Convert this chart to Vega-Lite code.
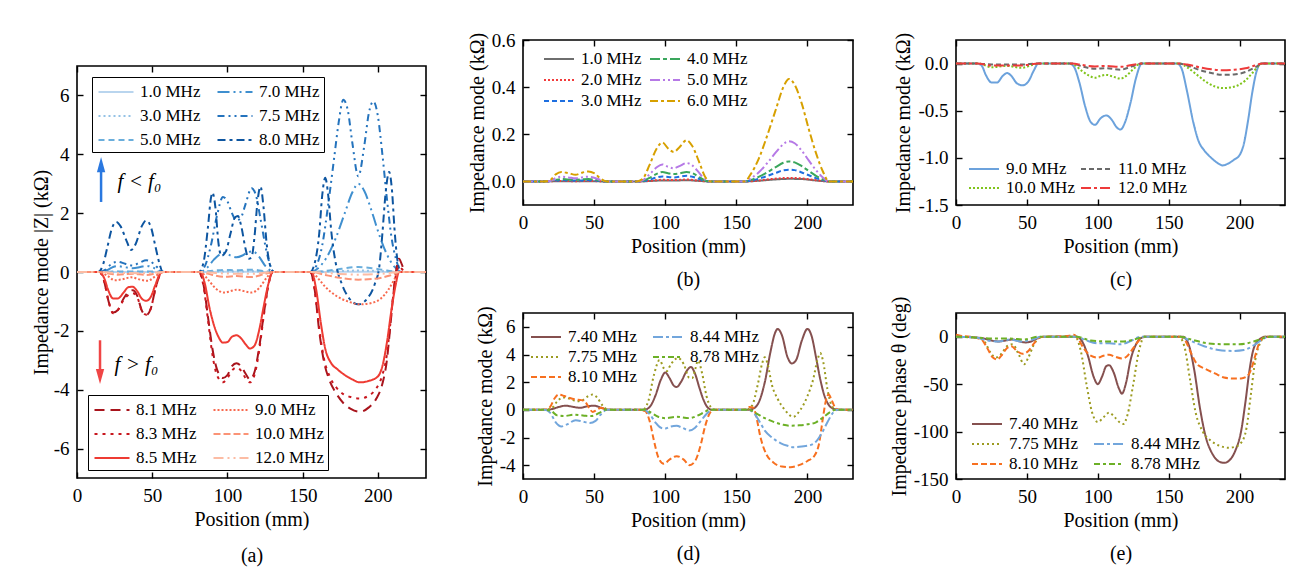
{
"$schema":"https://vega.github.io/schema/vega-lite/v6.json",
"background":"white",
"padding":{"left":30,"top":30,"right":5,"bottom":5},
"spacing":35,
"resolve":{"scale":{"color":"independent","strokeDash":"independent"},"legend":{"color":"independent","strokeDash":"independent"}},
"config":{
 "font":"Liberation Serif, Times New Roman, DejaVu Serif, serif",
 "view":{"stroke":"black","strokeWidth":1.6},
 "axis":{"labelFont":"Liberation Serif, Times New Roman, DejaVu Serif, serif","titleFont":"Liberation Serif, Times New Roman, DejaVu Serif, serif","labelFontSize":19,"titleFontSize":20,"titleFontWeight":"normal","labelColor":"black","titleColor":"black","tickColor":"black","tickWidth":1.4,"tickSize":-6,"domain":false,"grid":false,"labelPadding":14,"titlePadding":4,"labelFlush":false,"labelOverlap":false,"titleLineHeight":33},
 "legend":{"labelFont":"Liberation Serif, Times New Roman, DejaVu Serif, serif","labelFontSize":17,"labelColor":"black","symbolType":"M-1.5,0H1.5","symbolStrokeWidth":2,"symbolSize":400,"rowPadding":1,"columnPadding":4,"labelOffset":11,"symbolOffset":5,"padding":0,"orient":"none","columns":2,"title":null},
 "line":{"strokeWidth":2,"interpolate":"monotone","strokeCap":"butt"}
},
"datasets":{
"a_blue":[
{"s":"1.0 MHz","x":0,"y":0},{"s":"1.0 MHz","x":15,"y":0},{"s":"1.0 MHz","x":27,"y":0.003},{"s":"1.0 MHz","x":46,"y":0.003},{"s":"1.0 MHz","x":58,"y":0},{"s":"1.0 MHz","x":82,"y":0},{"s":"1.0 MHz","x":98,"y":0.006},{"s":"1.0 MHz","x":116,"y":0.006},{"s":"1.0 MHz","x":131,"y":0},{"s":"1.0 MHz","x":156,"y":0},{"s":"1.0 MHz","x":187,"y":0.012},{"s":"1.0 MHz","x":216,"y":0},{"s":"1.0 MHz","x":232,"y":0},
{"s":"3.0 MHz","x":0,"y":0},{"s":"3.0 MHz","x":15,"y":0},{"s":"3.0 MHz","x":27,"y":0.005},{"s":"3.0 MHz","x":46,"y":0.005},{"s":"3.0 MHz","x":58,"y":0},{"s":"3.0 MHz","x":82,"y":0},{"s":"3.0 MHz","x":98,"y":0.02},{"s":"3.0 MHz","x":106,"y":0.017},{"s":"3.0 MHz","x":116,"y":0.024},{"s":"3.0 MHz","x":131,"y":0},{"s":"3.0 MHz","x":156,"y":0},{"s":"3.0 MHz","x":172,"y":0.025},{"s":"3.0 MHz","x":187,"y":0.05},{"s":"3.0 MHz","x":200,"y":0.035},{"s":"3.0 MHz","x":216,"y":0},{"s":"3.0 MHz","x":232,"y":0},
{"s":"5.0 MHz","x":0,"y":0},{"s":"5.0 MHz","x":15,"y":0},{"s":"5.0 MHz","x":22,"y":0.012},{"s":"5.0 MHz","x":27,"y":0.02},{"s":"5.0 MHz","x":37,"y":0.013},{"s":"5.0 MHz","x":46,"y":0.02},{"s":"5.0 MHz","x":52,"y":0.012},{"s":"5.0 MHz","x":58,"y":0},{"s":"5.0 MHz","x":82,"y":0},{"s":"5.0 MHz","x":90,"y":0.04},{"s":"5.0 MHz","x":98,"y":0.072},{"s":"5.0 MHz","x":106,"y":0.056},{"s":"5.0 MHz","x":116,"y":0.078},{"s":"5.0 MHz","x":124,"y":0.035},{"s":"5.0 MHz","x":131,"y":0},{"s":"5.0 MHz","x":156,"y":0},{"s":"5.0 MHz","x":166,"y":0.04},{"s":"5.0 MHz","x":176,"y":0.11},{"s":"5.0 MHz","x":187,"y":0.17},{"s":"5.0 MHz","x":196,"y":0.13},{"s":"5.0 MHz","x":206,"y":0.05},{"s":"5.0 MHz","x":216,"y":0},{"s":"5.0 MHz","x":232,"y":0},
{"s":"7.0 MHz","x":0,"y":0},{"s":"7.0 MHz","x":15,"y":0},{"s":"7.0 MHz","x":20,"y":0.06},{"s":"7.0 MHz","x":24,"y":0.17},{"s":"7.0 MHz","x":27,"y":0.2},{"s":"7.0 MHz","x":32,"y":0.16},{"s":"7.0 MHz","x":37,"y":0.13},{"s":"7.0 MHz","x":42,"y":0.17},{"s":"7.0 MHz","x":46,"y":0.21},{"s":"7.0 MHz","x":51,"y":0.14},{"s":"7.0 MHz","x":55,"y":0.04},{"s":"7.0 MHz","x":58,"y":0},{"s":"7.0 MHz","x":81,"y":0},{"s":"7.0 MHz","x":86,"y":0.12},{"s":"7.0 MHz","x":91,"y":0.42},{"s":"7.0 MHz","x":95,"y":0.6},{"s":"7.0 MHz","x":98,"y":0.65},{"s":"7.0 MHz","x":102,"y":0.56},{"s":"7.0 MHz","x":106,"y":0.5},{"s":"7.0 MHz","x":110,"y":0.56},{"s":"7.0 MHz","x":114,"y":0.68},{"s":"7.0 MHz","x":117,"y":0.7},{"s":"7.0 MHz","x":121,"y":0.52},{"s":"7.0 MHz","x":125,"y":0.22},{"s":"7.0 MHz","x":129,"y":0.04},{"s":"7.0 MHz","x":131,"y":0},{"s":"7.0 MHz","x":155,"y":0},{"s":"7.0 MHz","x":160,"y":0.12},{"s":"7.0 MHz","x":166,"y":0.5},{"s":"7.0 MHz","x":172,"y":1.15},{"s":"7.0 MHz","x":178,"y":2.0},{"s":"7.0 MHz","x":183,"y":2.7},{"s":"7.0 MHz","x":187,"y":3.0},{"s":"7.0 MHz","x":191,"y":2.75},{"s":"7.0 MHz","x":196,"y":2.05},{"s":"7.0 MHz","x":201,"y":1.25},{"s":"7.0 MHz","x":206,"y":0.6},{"s":"7.0 MHz","x":211,"y":0.18},{"s":"7.0 MHz","x":216,"y":0},{"s":"7.0 MHz","x":232,"y":0},
{"s":"7.5 MHz","x":0,"y":0},{"s":"7.5 MHz","x":15,"y":0},{"s":"7.5 MHz","x":19,"y":0.08},{"s":"7.5 MHz","x":23,"y":0.28},{"s":"7.5 MHz","x":27,"y":0.35},{"s":"7.5 MHz","x":32,"y":0.28},{"s":"7.5 MHz","x":37,"y":0.22},{"s":"7.5 MHz","x":42,"y":0.33},{"s":"7.5 MHz","x":46,"y":0.4},{"s":"7.5 MHz","x":51,"y":0.28},{"s":"7.5 MHz","x":55,"y":0.08},{"s":"7.5 MHz","x":58,"y":0},{"s":"7.5 MHz","x":81,"y":0},{"s":"7.5 MHz","x":85,"y":0.2},{"s":"7.5 MHz","x":89,"y":0.9},{"s":"7.5 MHz","x":93,"y":1.9},{"s":"7.5 MHz","x":97,"y":2.55},{"s":"7.5 MHz","x":100,"y":2.4},{"s":"7.5 MHz","x":103,"y":2.0},{"s":"7.5 MHz","x":106,"y":1.75},{"s":"7.5 MHz","x":109,"y":1.85},{"s":"7.5 MHz","x":112,"y":2.3},{"s":"7.5 MHz","x":116,"y":2.85},{"s":"7.5 MHz","x":119,"y":2.6},{"s":"7.5 MHz","x":122,"y":1.8},{"s":"7.5 MHz","x":126,"y":0.7},{"s":"7.5 MHz","x":129,"y":0.15},{"s":"7.5 MHz","x":131,"y":0},{"s":"7.5 MHz","x":155,"y":0},{"s":"7.5 MHz","x":159,"y":0.2},{"s":"7.5 MHz","x":163,"y":0.9},{"s":"7.5 MHz","x":167,"y":2.3},{"s":"7.5 MHz","x":171,"y":3.9},{"s":"7.5 MHz","x":174,"y":5.1},{"s":"7.5 MHz","x":177,"y":5.85},{"s":"7.5 MHz","x":180,"y":5.5},{"s":"7.5 MHz","x":183,"y":4.4},{"s":"7.5 MHz","x":187,"y":3.25},{"s":"7.5 MHz","x":191,"y":4.3},{"s":"7.5 MHz","x":194,"y":5.4},{"s":"7.5 MHz","x":197,"y":5.8},{"s":"7.5 MHz","x":200,"y":5.3},{"s":"7.5 MHz","x":203,"y":4.0},{"s":"7.5 MHz","x":206,"y":2.5},{"s":"7.5 MHz","x":209,"y":1.2},{"s":"7.5 MHz","x":212,"y":0.45},{"s":"7.5 MHz","x":216,"y":0},{"s":"7.5 MHz","x":232,"y":0},
{"s":"8.0 MHz","x":0,"y":0},{"s":"8.0 MHz","x":14,"y":0},{"s":"8.0 MHz","x":17,"y":0.2},{"s":"8.0 MHz","x":20,"y":0.8},{"s":"8.0 MHz","x":23,"y":1.45},{"s":"8.0 MHz","x":26,"y":1.7},{"s":"8.0 MHz","x":29,"y":1.55},{"s":"8.0 MHz","x":33,"y":1.05},{"s":"8.0 MHz","x":36,"y":0.75},{"s":"8.0 MHz","x":39,"y":0.95},{"s":"8.0 MHz","x":43,"y":1.55},{"s":"8.0 MHz","x":46,"y":1.75},{"s":"8.0 MHz","x":49,"y":1.55},{"s":"8.0 MHz","x":52,"y":0.9},{"s":"8.0 MHz","x":55,"y":0.25},{"s":"8.0 MHz","x":57,"y":0},{"s":"8.0 MHz","x":81,"y":0},{"s":"8.0 MHz","x":84,"y":0.3},{"s":"8.0 MHz","x":87,"y":1.5},{"s":"8.0 MHz","x":89,"y":2.5},{"s":"8.0 MHz","x":90,"y":2.7},{"s":"8.0 MHz","x":92,"y":2.2},{"s":"8.0 MHz","x":94,"y":1.0},{"s":"8.0 MHz","x":96,"y":0.55},{"s":"8.0 MHz","x":99,"y":0.7},{"s":"8.0 MHz","x":102,"y":1.3},{"s":"8.0 MHz","x":105,"y":1.85},{"s":"8.0 MHz","x":107,"y":1.9},{"s":"8.0 MHz","x":109,"y":1.6},{"s":"8.0 MHz","x":112,"y":0.8},{"s":"8.0 MHz","x":114,"y":0.45},{"s":"8.0 MHz","x":116,"y":0.5},{"s":"8.0 MHz","x":118,"y":1.2},{"s":"8.0 MHz","x":120,"y":2.4},{"s":"8.0 MHz","x":122,"y":2.9},{"s":"8.0 MHz","x":124,"y":2.2},{"s":"8.0 MHz","x":126,"y":1.0},{"s":"8.0 MHz","x":128,"y":0.3},{"s":"8.0 MHz","x":131,"y":0},{"s":"8.0 MHz","x":155,"y":0},{"s":"8.0 MHz","x":158,"y":0.3},{"s":"8.0 MHz","x":161,"y":1.3},{"s":"8.0 MHz","x":163,"y":2.6},{"s":"8.0 MHz","x":165,"y":3.2},{"s":"8.0 MHz","x":167,"y":2.6},{"s":"8.0 MHz","x":169,"y":1.4},{"s":"8.0 MHz","x":172,"y":0.3},{"s":"8.0 MHz","x":176,"y":-0.4},{"s":"8.0 MHz","x":181,"y":-0.9},{"s":"8.0 MHz","x":187,"y":-1.1},{"s":"8.0 MHz","x":193,"y":-0.9},{"s":"8.0 MHz","x":198,"y":-0.4},{"s":"8.0 MHz","x":201,"y":0.2},{"s":"8.0 MHz","x":203,"y":1.3},{"s":"8.0 MHz","x":205,"y":2.6},{"s":"8.0 MHz","x":207.5,"y":3.4},{"s":"8.0 MHz","x":209.5,"y":2.7},{"s":"8.0 MHz","x":211,"y":1.5},{"s":"8.0 MHz","x":213,"y":0.4},{"s":"8.0 MHz","x":215,"y":0},{"s":"8.0 MHz","x":232,"y":0}
],
"a_red":[
{"s":"8.1 MHz","x":0,"y":0},{"s":"8.1 MHz","x":15,"y":0},{"s":"8.1 MHz","x":18,"y":-0.3},{"s":"8.1 MHz","x":21,"y":-1.0},{"s":"8.1 MHz","x":24,"y":-1.38},{"s":"8.1 MHz","x":27,"y":-1.3},{"s":"8.1 MHz","x":31,"y":-0.9},{"s":"8.1 MHz","x":35,"y":-0.65},{"s":"8.1 MHz","x":37,"y":-0.62},{"s":"8.1 MHz","x":40,"y":-0.8},{"s":"8.1 MHz","x":43,"y":-1.3},{"s":"8.1 MHz","x":46,"y":-1.47},{"s":"8.1 MHz","x":49,"y":-1.25},{"s":"8.1 MHz","x":52,"y":-0.6},{"s":"8.1 MHz","x":55,"y":-0.1},{"s":"8.1 MHz","x":57,"y":0},{"s":"8.1 MHz","x":81,"y":0},{"s":"8.1 MHz","x":84,"y":-0.4},{"s":"8.1 MHz","x":87,"y":-1.5},{"s":"8.1 MHz","x":90,"y":-2.6},{"s":"8.1 MHz","x":93,"y":-3.3},{"s":"8.1 MHz","x":97,"y":-3.6},{"s":"8.1 MHz","x":100,"y":-3.5},{"s":"8.1 MHz","x":103,"y":-3.2},{"s":"8.1 MHz","x":106,"y":-3.1},{"s":"8.1 MHz","x":109,"y":-3.2},{"s":"8.1 MHz","x":112,"y":-3.45},{"s":"8.1 MHz","x":115,"y":-3.65},{"s":"8.1 MHz","x":118,"y":-3.4},{"s":"8.1 MHz","x":121,"y":-2.6},{"s":"8.1 MHz","x":124,"y":-1.5},{"s":"8.1 MHz","x":127,"y":-0.5},{"s":"8.1 MHz","x":130,"y":0},{"s":"8.1 MHz","x":155,"y":0},{"s":"8.1 MHz","x":158,"y":-0.6},{"s":"8.1 MHz","x":161,"y":-2.0},{"s":"8.1 MHz","x":164,"y":-3.0},{"s":"8.1 MHz","x":168,"y":-3.7},{"s":"8.1 MHz","x":172,"y":-4.1},{"s":"8.1 MHz","x":177,"y":-4.45},{"s":"8.1 MHz","x":182,"y":-4.65},{"s":"8.1 MHz","x":188,"y":-4.75},{"s":"8.1 MHz","x":194,"y":-4.6},{"s":"8.1 MHz","x":199,"y":-4.3},{"s":"8.1 MHz","x":203,"y":-3.8},{"s":"8.1 MHz","x":206,"y":-3.0},{"s":"8.1 MHz","x":208,"y":-2.0},{"s":"8.1 MHz","x":210,"y":-0.9},{"s":"8.1 MHz","x":212,"y":0.0},{"s":"8.1 MHz","x":214,"y":0.45},{"s":"8.1 MHz","x":216,"y":0.25},{"s":"8.1 MHz","x":218,"y":0},{"s":"8.1 MHz","x":232,"y":0},
{"s":"8.3 MHz","x":0,"y":0},{"s":"8.3 MHz","x":15,"y":0},{"s":"8.3 MHz","x":18,"y":-0.3},{"s":"8.3 MHz","x":21,"y":-1.0},{"s":"8.3 MHz","x":24,"y":-1.4},{"s":"8.3 MHz","x":27,"y":-1.3},{"s":"8.3 MHz","x":31,"y":-0.95},{"s":"8.3 MHz","x":35,"y":-0.75},{"s":"8.3 MHz","x":37,"y":-0.72},{"s":"8.3 MHz","x":40,"y":-0.85},{"s":"8.3 MHz","x":43,"y":-1.3},{"s":"8.3 MHz","x":46,"y":-1.45},{"s":"8.3 MHz","x":49,"y":-1.25},{"s":"8.3 MHz","x":52,"y":-0.6},{"s":"8.3 MHz","x":55,"y":-0.1},{"s":"8.3 MHz","x":57,"y":0},{"s":"8.3 MHz","x":81,"y":0},{"s":"8.3 MHz","x":84,"y":-0.45},{"s":"8.3 MHz","x":87,"y":-1.6},{"s":"8.3 MHz","x":90,"y":-2.8},{"s":"8.3 MHz","x":93,"y":-3.5},{"s":"8.3 MHz","x":97,"y":-3.75},{"s":"8.3 MHz","x":100,"y":-3.6},{"s":"8.3 MHz","x":103,"y":-3.35},{"s":"8.3 MHz","x":106,"y":-3.25},{"s":"8.3 MHz","x":109,"y":-3.35},{"s":"8.3 MHz","x":112,"y":-3.6},{"s":"8.3 MHz","x":115,"y":-3.75},{"s":"8.3 MHz","x":118,"y":-3.5},{"s":"8.3 MHz","x":121,"y":-2.7},{"s":"8.3 MHz","x":124,"y":-1.55},{"s":"8.3 MHz","x":127,"y":-0.5},{"s":"8.3 MHz","x":130,"y":0},{"s":"8.3 MHz","x":155,"y":0},{"s":"8.3 MHz","x":158,"y":-0.6},{"s":"8.3 MHz","x":161,"y":-1.9},{"s":"8.3 MHz","x":164,"y":-2.9},{"s":"8.3 MHz","x":168,"y":-3.55},{"s":"8.3 MHz","x":172,"y":-3.9},{"s":"8.3 MHz","x":177,"y":-4.15},{"s":"8.3 MHz","x":182,"y":-4.25},{"s":"8.3 MHz","x":188,"y":-4.3},{"s":"8.3 MHz","x":194,"y":-4.2},{"s":"8.3 MHz","x":199,"y":-3.95},{"s":"8.3 MHz","x":203,"y":-3.5},{"s":"8.3 MHz","x":206,"y":-2.8},{"s":"8.3 MHz","x":208,"y":-1.9},{"s":"8.3 MHz","x":210,"y":-0.9},{"s":"8.3 MHz","x":212,"y":-0.1},{"s":"8.3 MHz","x":214,"y":0.2},{"s":"8.3 MHz","x":216,"y":0.1},{"s":"8.3 MHz","x":218,"y":0},{"s":"8.3 MHz","x":232,"y":0},
{"s":"8.5 MHz","x":0,"y":0},{"s":"8.5 MHz","x":15,"y":0},{"s":"8.5 MHz","x":18,"y":-0.2},{"s":"8.5 MHz","x":21,"y":-0.65},{"s":"8.5 MHz","x":24,"y":-0.9},{"s":"8.5 MHz","x":27,"y":-0.9},{"s":"8.5 MHz","x":31,"y":-0.7},{"s":"8.5 MHz","x":34,"y":-0.52},{"s":"8.5 MHz","x":37,"y":-0.5},{"s":"8.5 MHz","x":40,"y":-0.65},{"s":"8.5 MHz","x":43,"y":-0.9},{"s":"8.5 MHz","x":46,"y":-0.98},{"s":"8.5 MHz","x":49,"y":-0.85},{"s":"8.5 MHz","x":52,"y":-0.45},{"s":"8.5 MHz","x":55,"y":-0.08},{"s":"8.5 MHz","x":57,"y":0},{"s":"8.5 MHz","x":82,"y":0},{"s":"8.5 MHz","x":85,"y":-0.4},{"s":"8.5 MHz","x":88,"y":-1.2},{"s":"8.5 MHz","x":91,"y":-1.8},{"s":"8.5 MHz","x":94,"y":-2.2},{"s":"8.5 MHz","x":97,"y":-2.4},{"s":"8.5 MHz","x":100,"y":-2.38},{"s":"8.5 MHz","x":103,"y":-2.2},{"s":"8.5 MHz","x":106,"y":-2.15},{"s":"8.5 MHz","x":109,"y":-2.25},{"s":"8.5 MHz","x":112,"y":-2.45},{"s":"8.5 MHz","x":115,"y":-2.6},{"s":"8.5 MHz","x":118,"y":-2.5},{"s":"8.5 MHz","x":121,"y":-2.0},{"s":"8.5 MHz","x":124,"y":-1.2},{"s":"8.5 MHz","x":127,"y":-0.45},{"s":"8.5 MHz","x":130,"y":0},{"s":"8.5 MHz","x":156,"y":0},{"s":"8.5 MHz","x":159,"y":-0.6},{"s":"8.5 MHz","x":162,"y":-1.7},{"s":"8.5 MHz","x":165,"y":-2.6},{"s":"8.5 MHz","x":169,"y":-3.1},{"s":"8.5 MHz","x":173,"y":-3.3},{"s":"8.5 MHz","x":178,"y":-3.5},{"s":"8.5 MHz","x":183,"y":-3.65},{"s":"8.5 MHz","x":188,"y":-3.75},{"s":"8.5 MHz","x":194,"y":-3.7},{"s":"8.5 MHz","x":200,"y":-3.55},{"s":"8.5 MHz","x":203,"y":-3.2},{"s":"8.5 MHz","x":206,"y":-2.4},{"s":"8.5 MHz","x":209,"y":-1.3},{"s":"8.5 MHz","x":212,"y":-0.4},{"s":"8.5 MHz","x":214,"y":0},{"s":"8.5 MHz","x":232,"y":0},
{"s":"9.0 MHz","x":0,"y":0},{"s":"9.0 MHz","x":15,"y":0},{"s":"9.0 MHz","x":20,"y":-0.12},{"s":"9.0 MHz","x":25,"y":-0.28},{"s":"9.0 MHz","x":30,"y":-0.25},{"s":"9.0 MHz","x":36,"y":-0.18},{"s":"9.0 MHz","x":42,"y":-0.26},{"s":"9.0 MHz","x":47,"y":-0.3},{"s":"9.0 MHz","x":52,"y":-0.15},{"s":"9.0 MHz","x":57,"y":0},{"s":"9.0 MHz","x":82,"y":0},{"s":"9.0 MHz","x":87,"y":-0.25},{"s":"9.0 MHz","x":92,"y":-0.55},{"s":"9.0 MHz","x":98,"y":-0.7},{"s":"9.0 MHz","x":102,"y":-0.65},{"s":"9.0 MHz","x":106,"y":-0.6},{"s":"9.0 MHz","x":111,"y":-0.65},{"s":"9.0 MHz","x":116,"y":-0.7},{"s":"9.0 MHz","x":121,"y":-0.55},{"s":"9.0 MHz","x":126,"y":-0.2},{"s":"9.0 MHz","x":130,"y":0},{"s":"9.0 MHz","x":156,"y":0},{"s":"9.0 MHz","x":160,"y":-0.2},{"s":"9.0 MHz","x":165,"y":-0.5},{"s":"9.0 MHz","x":172,"y":-0.8},{"s":"9.0 MHz","x":180,"y":-1.0},{"s":"9.0 MHz","x":188,"y":-1.1},{"s":"9.0 MHz","x":196,"y":-1.05},{"s":"9.0 MHz","x":202,"y":-0.9},{"s":"9.0 MHz","x":207,"y":-0.6},{"s":"9.0 MHz","x":211,"y":-0.25},{"s":"9.0 MHz","x":214,"y":0},{"s":"9.0 MHz","x":232,"y":0},
{"s":"10.0 MHz","x":0,"y":0},{"s":"10.0 MHz","x":15,"y":0},{"s":"10.0 MHz","x":22,"y":-0.06},{"s":"10.0 MHz","x":27,"y":-0.09},{"s":"10.0 MHz","x":37,"y":-0.06},{"s":"10.0 MHz","x":46,"y":-0.1},{"s":"10.0 MHz","x":53,"y":-0.04},{"s":"10.0 MHz","x":58,"y":0},{"s":"10.0 MHz","x":82,"y":0},{"s":"10.0 MHz","x":90,"y":-0.1},{"s":"10.0 MHz","x":98,"y":-0.16},{"s":"10.0 MHz","x":106,"y":-0.14},{"s":"10.0 MHz","x":116,"y":-0.17},{"s":"10.0 MHz","x":124,"y":-0.08},{"s":"10.0 MHz","x":131,"y":0},{"s":"10.0 MHz","x":156,"y":0},{"s":"10.0 MHz","x":165,"y":-0.1},{"s":"10.0 MHz","x":175,"y":-0.2},{"s":"10.0 MHz","x":187,"y":-0.26},{"s":"10.0 MHz","x":198,"y":-0.23},{"s":"10.0 MHz","x":208,"y":-0.12},{"s":"10.0 MHz","x":215,"y":0},{"s":"10.0 MHz","x":232,"y":0},
{"s":"12.0 MHz","x":0,"y":0},{"s":"12.0 MHz","x":15,"y":0},{"s":"12.0 MHz","x":27,"y":-0.03},{"s":"12.0 MHz","x":46,"y":-0.04},{"s":"12.0 MHz","x":58,"y":0},{"s":"12.0 MHz","x":82,"y":0},{"s":"12.0 MHz","x":98,"y":-0.05},{"s":"12.0 MHz","x":116,"y":-0.06},{"s":"12.0 MHz","x":131,"y":0},{"s":"12.0 MHz","x":156,"y":0},{"s":"12.0 MHz","x":175,"y":-0.07},{"s":"12.0 MHz","x":187,"y":-0.09},{"s":"12.0 MHz","x":200,"y":-0.07},{"s":"12.0 MHz","x":215,"y":0},{"s":"12.0 MHz","x":232,"y":0}
],
"b":[
{"s":"1.0 MHz","x":0,"y":0},{"s":"1.0 MHz","x":15,"y":0},{"s":"1.0 MHz","x":27,"y":0.001},{"s":"1.0 MHz","x":46,"y":0.001},{"s":"1.0 MHz","x":58,"y":0},{"s":"1.0 MHz","x":82,"y":0},{"s":"1.0 MHz","x":90,"y":0.002},{"s":"1.0 MHz","x":98,"y":0.004},{"s":"1.0 MHz","x":106,"y":0.004},{"s":"1.0 MHz","x":116,"y":0.005},{"s":"1.0 MHz","x":124,"y":0.002},{"s":"1.0 MHz","x":131,"y":0},{"s":"1.0 MHz","x":156,"y":0},{"s":"1.0 MHz","x":166,"y":0.003},{"s":"1.0 MHz","x":176,"y":0.008},{"s":"1.0 MHz","x":187,"y":0.011},{"s":"1.0 MHz","x":196,"y":0.01},{"s":"1.0 MHz","x":206,"y":0.004},{"s":"1.0 MHz","x":215,"y":0},{"s":"1.0 MHz","x":232,"y":0},
{"s":"2.0 MHz","x":0,"y":0},{"s":"2.0 MHz","x":15,"y":0},{"s":"2.0 MHz","x":27,"y":0.002},{"s":"2.0 MHz","x":37,"y":0.001},{"s":"2.0 MHz","x":46,"y":0.002},{"s":"2.0 MHz","x":58,"y":0},{"s":"2.0 MHz","x":82,"y":0},{"s":"2.0 MHz","x":90,"y":0.003},{"s":"2.0 MHz","x":98,"y":0.007},{"s":"2.0 MHz","x":106,"y":0.006},{"s":"2.0 MHz","x":116,"y":0.008},{"s":"2.0 MHz","x":124,"y":0.003},{"s":"2.0 MHz","x":131,"y":0},{"s":"2.0 MHz","x":156,"y":0},{"s":"2.0 MHz","x":166,"y":0.004},{"s":"2.0 MHz","x":176,"y":0.011},{"s":"2.0 MHz","x":187,"y":0.015},{"s":"2.0 MHz","x":196,"y":0.013},{"s":"2.0 MHz","x":206,"y":0.005},{"s":"2.0 MHz","x":215,"y":0},{"s":"2.0 MHz","x":232,"y":0},
{"s":"3.0 MHz","x":0,"y":0},{"s":"3.0 MHz","x":15,"y":0},{"s":"3.0 MHz","x":23,"y":0.004},{"s":"3.0 MHz","x":27,"y":0.005},{"s":"3.0 MHz","x":37,"y":0.004},{"s":"3.0 MHz","x":46,"y":0.005},{"s":"3.0 MHz","x":55,"y":0.002},{"s":"3.0 MHz","x":58,"y":0},{"s":"3.0 MHz","x":82,"y":0},{"s":"3.0 MHz","x":84,"y":0.001},{"s":"3.0 MHz","x":89,"y":0.008},{"s":"3.0 MHz","x":94,"y":0.017},{"s":"3.0 MHz","x":98,"y":0.021},{"s":"3.0 MHz","x":106,"y":0.017},{"s":"3.0 MHz","x":115,"y":0.024},{"s":"3.0 MHz","x":119,"y":0.02},{"s":"3.0 MHz","x":124,"y":0.01},{"s":"3.0 MHz","x":128,"y":0.002},{"s":"3.0 MHz","x":131,"y":0},{"s":"3.0 MHz","x":156,"y":0},{"s":"3.0 MHz","x":160,"y":0.003},{"s":"3.0 MHz","x":166,"y":0.012},{"s":"3.0 MHz","x":172,"y":0.024},{"s":"3.0 MHz","x":178,"y":0.037},{"s":"3.0 MHz","x":183,"y":0.047},{"s":"3.0 MHz","x":187,"y":0.05},{"s":"3.0 MHz","x":191,"y":0.048},{"s":"3.0 MHz","x":196,"y":0.038},{"s":"3.0 MHz","x":201,"y":0.026},{"s":"3.0 MHz","x":206,"y":0.014},{"s":"3.0 MHz","x":211,"y":0.005},{"s":"3.0 MHz","x":215,"y":0},{"s":"3.0 MHz","x":232,"y":0},
{"s":"4.0 MHz","x":0,"y":0},{"s":"4.0 MHz","x":15,"y":0},{"s":"4.0 MHz","x":19,"y":0.002},{"s":"4.0 MHz","x":23,"y":0.007},{"s":"4.0 MHz","x":27,"y":0.01},{"s":"4.0 MHz","x":32,"y":0.008},{"s":"4.0 MHz","x":37,"y":0.007},{"s":"4.0 MHz","x":42,"y":0.009},{"s":"4.0 MHz","x":46,"y":0.01},{"s":"4.0 MHz","x":50,"y":0.008},{"s":"4.0 MHz","x":55,"y":0.003},{"s":"4.0 MHz","x":59,"y":0},{"s":"4.0 MHz","x":80,"y":0},{"s":"4.0 MHz","x":84,"y":0.002},{"s":"4.0 MHz","x":89,"y":0.015},{"s":"4.0 MHz","x":94,"y":0.032},{"s":"4.0 MHz","x":98,"y":0.04},{"s":"4.0 MHz","x":102,"y":0.035},{"s":"4.0 MHz","x":106,"y":0.031},{"s":"4.0 MHz","x":110,"y":0.034},{"s":"4.0 MHz","x":115,"y":0.04},{"s":"4.0 MHz","x":119,"y":0.035},{"s":"4.0 MHz","x":124,"y":0.018},{"s":"4.0 MHz","x":128,"y":0.004},{"s":"4.0 MHz","x":132,"y":0},{"s":"4.0 MHz","x":156,"y":0},{"s":"4.0 MHz","x":160,"y":0.006},{"s":"4.0 MHz","x":166,"y":0.02},{"s":"4.0 MHz","x":172,"y":0.04},{"s":"4.0 MHz","x":178,"y":0.062},{"s":"4.0 MHz","x":183,"y":0.079},{"s":"4.0 MHz","x":187,"y":0.085},{"s":"4.0 MHz","x":191,"y":0.081},{"s":"4.0 MHz","x":196,"y":0.065},{"s":"4.0 MHz","x":201,"y":0.044},{"s":"4.0 MHz","x":206,"y":0.024},{"s":"4.0 MHz","x":211,"y":0.008},{"s":"4.0 MHz","x":215,"y":0},{"s":"4.0 MHz","x":232,"y":0},
{"s":"5.0 MHz","x":0,"y":0},{"s":"5.0 MHz","x":15,"y":0},{"s":"5.0 MHz","x":19,"y":0.002},{"s":"5.0 MHz","x":23,"y":0.014},{"s":"5.0 MHz","x":27,"y":0.02},{"s":"5.0 MHz","x":32,"y":0.017},{"s":"5.0 MHz","x":37,"y":0.013},{"s":"5.0 MHz","x":42,"y":0.018},{"s":"5.0 MHz","x":46,"y":0.02},{"s":"5.0 MHz","x":50,"y":0.016},{"s":"5.0 MHz","x":55,"y":0.005},{"s":"5.0 MHz","x":59,"y":0},{"s":"5.0 MHz","x":80,"y":0},{"s":"5.0 MHz","x":84,"y":0.005},{"s":"5.0 MHz","x":89,"y":0.03},{"s":"5.0 MHz","x":94,"y":0.06},{"s":"5.0 MHz","x":98,"y":0.072},{"s":"5.0 MHz","x":102,"y":0.062},{"s":"5.0 MHz","x":106,"y":0.056},{"s":"5.0 MHz","x":110,"y":0.065},{"s":"5.0 MHz","x":115,"y":0.078},{"s":"5.0 MHz","x":119,"y":0.068},{"s":"5.0 MHz","x":124,"y":0.035},{"s":"5.0 MHz","x":128,"y":0.008},{"s":"5.0 MHz","x":132,"y":0},{"s":"5.0 MHz","x":156,"y":0},{"s":"5.0 MHz","x":160,"y":0.012},{"s":"5.0 MHz","x":166,"y":0.04},{"s":"5.0 MHz","x":172,"y":0.08},{"s":"5.0 MHz","x":178,"y":0.125},{"s":"5.0 MHz","x":183,"y":0.158},{"s":"5.0 MHz","x":187,"y":0.17},{"s":"5.0 MHz","x":191,"y":0.162},{"s":"5.0 MHz","x":196,"y":0.13},{"s":"5.0 MHz","x":201,"y":0.088},{"s":"5.0 MHz","x":206,"y":0.048},{"s":"5.0 MHz","x":211,"y":0.016},{"s":"5.0 MHz","x":215,"y":0},{"s":"5.0 MHz","x":232,"y":0},
{"s":"6.0 MHz","x":0,"y":0},{"s":"6.0 MHz","x":15,"y":0},{"s":"6.0 MHz","x":19,"y":0.005},{"s":"6.0 MHz","x":23,"y":0.03},{"s":"6.0 MHz","x":27,"y":0.04},{"s":"6.0 MHz","x":32,"y":0.035},{"s":"6.0 MHz","x":37,"y":0.028},{"s":"6.0 MHz","x":42,"y":0.038},{"s":"6.0 MHz","x":46,"y":0.042},{"s":"6.0 MHz","x":50,"y":0.035},{"s":"6.0 MHz","x":55,"y":0.01},{"s":"6.0 MHz","x":59,"y":0},{"s":"6.0 MHz","x":80,"y":0},{"s":"6.0 MHz","x":84,"y":0.01},{"s":"6.0 MHz","x":89,"y":0.07},{"s":"6.0 MHz","x":94,"y":0.14},{"s":"6.0 MHz","x":98,"y":0.165},{"s":"6.0 MHz","x":102,"y":0.14},{"s":"6.0 MHz","x":106,"y":0.125},{"s":"6.0 MHz","x":110,"y":0.145},{"s":"6.0 MHz","x":115,"y":0.175},{"s":"6.0 MHz","x":119,"y":0.15},{"s":"6.0 MHz","x":124,"y":0.08},{"s":"6.0 MHz","x":128,"y":0.02},{"s":"6.0 MHz","x":132,"y":0},{"s":"6.0 MHz","x":156,"y":0},{"s":"6.0 MHz","x":160,"y":0.03},{"s":"6.0 MHz","x":166,"y":0.1},{"s":"6.0 MHz","x":172,"y":0.2},{"s":"6.0 MHz","x":178,"y":0.31},{"s":"6.0 MHz","x":183,"y":0.4},{"s":"6.0 MHz","x":187,"y":0.435},{"s":"6.0 MHz","x":191,"y":0.41},{"s":"6.0 MHz","x":196,"y":0.33},{"s":"6.0 MHz","x":201,"y":0.22},{"s":"6.0 MHz","x":206,"y":0.12},{"s":"6.0 MHz","x":211,"y":0.04},{"s":"6.0 MHz","x":215,"y":0},{"s":"6.0 MHz","x":232,"y":0}
],
"c":[
{"s":"9.0 MHz","x":0,"y":0},{"s":"9.0 MHz","x":15,"y":0},{"s":"9.0 MHz","x":18,"y":-0.02},{"s":"9.0 MHz","x":21,"y":-0.12},{"s":"9.0 MHz","x":25,"y":-0.2},{"s":"9.0 MHz","x":29,"y":-0.2},{"s":"9.0 MHz","x":33,"y":-0.13},{"s":"9.0 MHz","x":36,"y":-0.1},{"s":"9.0 MHz","x":39,"y":-0.13},{"s":"9.0 MHz","x":43,"y":-0.21},{"s":"9.0 MHz","x":47,"y":-0.23},{"s":"9.0 MHz","x":51,"y":-0.19},{"s":"9.0 MHz","x":55,"y":-0.07},{"s":"9.0 MHz","x":58,"y":0},{"s":"9.0 MHz","x":80,"y":0},{"s":"9.0 MHz","x":83,"y":-0.03},{"s":"9.0 MHz","x":87,"y":-0.2},{"s":"9.0 MHz","x":91,"y":-0.45},{"s":"9.0 MHz","x":95,"y":-0.62},{"s":"9.0 MHz","x":98,"y":-0.65},{"s":"9.0 MHz","x":102,"y":-0.58},{"s":"9.0 MHz","x":106,"y":-0.55},{"s":"9.0 MHz","x":110,"y":-0.6},{"s":"9.0 MHz","x":113,"y":-0.67},{"s":"9.0 MHz","x":116,"y":-0.7},{"s":"9.0 MHz","x":119,"y":-0.63},{"s":"9.0 MHz","x":123,"y":-0.42},{"s":"9.0 MHz","x":127,"y":-0.15},{"s":"9.0 MHz","x":131,"y":0},{"s":"9.0 MHz","x":156,"y":0},{"s":"9.0 MHz","x":159,"y":-0.05},{"s":"9.0 MHz","x":163,"y":-0.3},{"s":"9.0 MHz","x":167,"y":-0.6},{"s":"9.0 MHz","x":171,"y":-0.82},{"s":"9.0 MHz","x":175,"y":-0.92},{"s":"9.0 MHz","x":180,"y":-1.0},{"s":"9.0 MHz","x":185,"y":-1.06},{"s":"9.0 MHz","x":188,"y":-1.08},{"s":"9.0 MHz","x":192,"y":-1.06},{"s":"9.0 MHz","x":196,"y":-1.02},{"s":"9.0 MHz","x":200,"y":-0.97},{"s":"9.0 MHz","x":203,"y":-0.85},{"s":"9.0 MHz","x":206,"y":-0.6},{"s":"9.0 MHz","x":209,"y":-0.3},{"s":"9.0 MHz","x":212,"y":-0.08},{"s":"9.0 MHz","x":215,"y":0},{"s":"9.0 MHz","x":232,"y":0},
{"s":"10.0 MHz","x":0,"y":0},{"s":"10.0 MHz","x":15,"y":0},{"s":"10.0 MHz","x":18,"y":-0.005},{"s":"10.0 MHz","x":25,"y":-0.04},{"s":"10.0 MHz","x":36,"y":-0.025},{"s":"10.0 MHz","x":46,"y":-0.045},{"s":"10.0 MHz","x":55,"y":-0.01},{"s":"10.0 MHz","x":58,"y":0},{"s":"10.0 MHz","x":80,"y":0},{"s":"10.0 MHz","x":83,"y":-0.01},{"s":"10.0 MHz","x":89,"y":-0.08},{"s":"10.0 MHz","x":94,"y":-0.13},{"s":"10.0 MHz","x":98,"y":-0.15},{"s":"10.0 MHz","x":102,"y":-0.13},{"s":"10.0 MHz","x":106,"y":-0.12},{"s":"10.0 MHz","x":111,"y":-0.14},{"s":"10.0 MHz","x":116,"y":-0.16},{"s":"10.0 MHz","x":120,"y":-0.13},{"s":"10.0 MHz","x":125,"y":-0.06},{"s":"10.0 MHz","x":130,"y":0},{"s":"10.0 MHz","x":158,"y":0},{"s":"10.0 MHz","x":163,"y":-0.04},{"s":"10.0 MHz","x":170,"y":-0.12},{"s":"10.0 MHz","x":177,"y":-0.2},{"s":"10.0 MHz","x":183,"y":-0.245},{"s":"10.0 MHz","x":188,"y":-0.26},{"s":"10.0 MHz","x":193,"y":-0.255},{"s":"10.0 MHz","x":199,"y":-0.23},{"s":"10.0 MHz","x":204,"y":-0.18},{"s":"10.0 MHz","x":209,"y":-0.1},{"s":"10.0 MHz","x":213,"y":-0.03},{"s":"10.0 MHz","x":216,"y":0},{"s":"10.0 MHz","x":232,"y":0},
{"s":"11.0 MHz","x":0,"y":0},{"s":"11.0 MHz","x":15,"y":0},{"s":"11.0 MHz","x":25,"y":-0.01},{"s":"11.0 MHz","x":46,"y":-0.01},{"s":"11.0 MHz","x":58,"y":0},{"s":"11.0 MHz","x":82,"y":0},{"s":"11.0 MHz","x":89,"y":-0.03},{"s":"11.0 MHz","x":98,"y":-0.055},{"s":"11.0 MHz","x":106,"y":-0.05},{"s":"11.0 MHz","x":116,"y":-0.065},{"s":"11.0 MHz","x":124,"y":-0.03},{"s":"11.0 MHz","x":131,"y":0},{"s":"11.0 MHz","x":157,"y":0},{"s":"11.0 MHz","x":163,"y":-0.02},{"s":"11.0 MHz","x":172,"y":-0.07},{"s":"11.0 MHz","x":180,"y":-0.1},{"s":"11.0 MHz","x":188,"y":-0.12},{"s":"11.0 MHz","x":196,"y":-0.115},{"s":"11.0 MHz","x":204,"y":-0.09},{"s":"11.0 MHz","x":211,"y":-0.04},{"s":"11.0 MHz","x":216,"y":0},{"s":"11.0 MHz","x":232,"y":0},
{"s":"12.0 MHz","x":0,"y":0},{"s":"12.0 MHz","x":15,"y":0},{"s":"12.0 MHz","x":25,"y":-0.02},{"s":"12.0 MHz","x":46,"y":-0.02},{"s":"12.0 MHz","x":58,"y":0},{"s":"12.0 MHz","x":82,"y":0},{"s":"12.0 MHz","x":89,"y":-0.015},{"s":"12.0 MHz","x":98,"y":-0.03},{"s":"12.0 MHz","x":106,"y":-0.025},{"s":"12.0 MHz","x":116,"y":-0.035},{"s":"12.0 MHz","x":124,"y":-0.015},{"s":"12.0 MHz","x":131,"y":0},{"s":"12.0 MHz","x":157,"y":0},{"s":"12.0 MHz","x":163,"y":-0.01},{"s":"12.0 MHz","x":172,"y":-0.04},{"s":"12.0 MHz","x":180,"y":-0.06},{"s":"12.0 MHz","x":188,"y":-0.07},{"s":"12.0 MHz","x":196,"y":-0.065},{"s":"12.0 MHz","x":204,"y":-0.05},{"s":"12.0 MHz","x":211,"y":-0.02},{"s":"12.0 MHz","x":216,"y":0},{"s":"12.0 MHz","x":232,"y":0}
],
"d":[
{"s":"7.40 MHz","x":0,"y":0},{"s":"7.40 MHz","x":15,"y":0},{"s":"7.40 MHz","x":20,"y":0.05},{"s":"7.40 MHz","x":25,"y":0.2},{"s":"7.40 MHz","x":30,"y":0.3},{"s":"7.40 MHz","x":35,"y":0.22},{"s":"7.40 MHz","x":40,"y":0.15},{"s":"7.40 MHz","x":45,"y":0.25},{"s":"7.40 MHz","x":50,"y":0.3},{"s":"7.40 MHz","x":55,"y":0.15},{"s":"7.40 MHz","x":60,"y":0},{"s":"7.40 MHz","x":85,"y":0},{"s":"7.40 MHz","x":89,"y":0.2},{"s":"7.40 MHz","x":93,"y":1.0},{"s":"7.40 MHz","x":97,"y":2.2},{"s":"7.40 MHz","x":100,"y":2.7},{"s":"7.40 MHz","x":103,"y":2.3},{"s":"7.40 MHz","x":106,"y":1.75},{"s":"7.40 MHz","x":108,"y":1.65},{"s":"7.40 MHz","x":111,"y":2.0},{"s":"7.40 MHz","x":115,"y":2.8},{"s":"7.40 MHz","x":118,"y":3.1},{"s":"7.40 MHz","x":121,"y":2.6},{"s":"7.40 MHz","x":124,"y":1.6},{"s":"7.40 MHz","x":127,"y":0.7},{"s":"7.40 MHz","x":130,"y":0.15},{"s":"7.40 MHz","x":133,"y":0},{"s":"7.40 MHz","x":158,"y":0},{"s":"7.40 MHz","x":162,"y":0.1},{"s":"7.40 MHz","x":166,"y":0.6},{"s":"7.40 MHz","x":170,"y":2.0},{"s":"7.40 MHz","x":174,"y":4.2},{"s":"7.40 MHz","x":177,"y":5.5},{"s":"7.40 MHz","x":179,"y":5.85},{"s":"7.40 MHz","x":182,"y":5.4},{"s":"7.40 MHz","x":186,"y":3.8},{"s":"7.40 MHz","x":189,"y":3.35},{"s":"7.40 MHz","x":192,"y":3.6},{"s":"7.40 MHz","x":196,"y":5.0},{"s":"7.40 MHz","x":200,"y":5.85},{"s":"7.40 MHz","x":203,"y":5.3},{"s":"7.40 MHz","x":206,"y":3.8},{"s":"7.40 MHz","x":209,"y":2.2},{"s":"7.40 MHz","x":212,"y":1.0},{"s":"7.40 MHz","x":215,"y":0.35},{"s":"7.40 MHz","x":219,"y":0.05},{"s":"7.40 MHz","x":222,"y":0},{"s":"7.40 MHz","x":232,"y":0},
{"s":"7.75 MHz","x":0,"y":0},{"s":"7.75 MHz","x":15,"y":0},{"s":"7.75 MHz","x":20,"y":0.1},{"s":"7.75 MHz","x":24,"y":0.6},{"s":"7.75 MHz","x":28,"y":0.9},{"s":"7.75 MHz","x":33,"y":0.8},{"s":"7.75 MHz","x":38,"y":0.62},{"s":"7.75 MHz","x":42,"y":0.7},{"s":"7.75 MHz","x":46,"y":1.0},{"s":"7.75 MHz","x":49,"y":1.1},{"s":"7.75 MHz","x":52,"y":0.9},{"s":"7.75 MHz","x":56,"y":0.3},{"s":"7.75 MHz","x":60,"y":0},{"s":"7.75 MHz","x":84,"y":0},{"s":"7.75 MHz","x":88,"y":0.6},{"s":"7.75 MHz","x":92,"y":2.5},{"s":"7.75 MHz","x":96,"y":3.6},{"s":"7.75 MHz","x":99,"y":3.0},{"s":"7.75 MHz","x":101,"y":2.8},{"s":"7.75 MHz","x":104,"y":3.3},{"s":"7.75 MHz","x":109,"y":3.75},{"s":"7.75 MHz","x":113,"y":3.3},{"s":"7.75 MHz","x":117,"y":2.3},{"s":"7.75 MHz","x":119,"y":2.3},{"s":"7.75 MHz","x":121,"y":2.9},{"s":"7.75 MHz","x":123,"y":3.55},{"s":"7.75 MHz","x":126,"y":2.6},{"s":"7.75 MHz","x":129,"y":1.0},{"s":"7.75 MHz","x":132,"y":0.2},{"s":"7.75 MHz","x":135,"y":0},{"s":"7.75 MHz","x":157,"y":0},{"s":"7.75 MHz","x":161,"y":0.3},{"s":"7.75 MHz","x":165,"y":1.8},{"s":"7.75 MHz","x":168,"y":3.3},{"s":"7.75 MHz","x":170,"y":3.8},{"s":"7.75 MHz","x":172,"y":3.3},{"s":"7.75 MHz","x":175,"y":1.8},{"s":"7.75 MHz","x":179,"y":0.8},{"s":"7.75 MHz","x":184,"y":0.0},{"s":"7.75 MHz","x":190,"y":-0.5},{"s":"7.75 MHz","x":195,"y":0.0},{"s":"7.75 MHz","x":200,"y":1.0},{"s":"7.75 MHz","x":204,"y":2.2},{"s":"7.75 MHz","x":207,"y":3.6},{"s":"7.75 MHz","x":209,"y":4.1},{"s":"7.75 MHz","x":211,"y":3.5},{"s":"7.75 MHz","x":214,"y":1.5},{"s":"7.75 MHz","x":217,"y":0.3},{"s":"7.75 MHz","x":220,"y":0},{"s":"7.75 MHz","x":232,"y":0},
{"s":"8.10 MHz","x":0,"y":0},{"s":"8.10 MHz","x":15,"y":0},{"s":"8.10 MHz","x":19,"y":0.2},{"s":"8.10 MHz","x":22,"y":0.8},{"s":"8.10 MHz","x":25,"y":1.1},{"s":"8.10 MHz","x":29,"y":1.0},{"s":"8.10 MHz","x":33,"y":0.85},{"s":"8.10 MHz","x":37,"y":0.75},{"s":"8.10 MHz","x":41,"y":0.7},{"s":"8.10 MHz","x":44,"y":0.55},{"s":"8.10 MHz","x":47,"y":0.05},{"s":"8.10 MHz","x":49,"y":-0.15},{"s":"8.10 MHz","x":52,"y":0},{"s":"8.10 MHz","x":55,"y":0.15},{"s":"8.10 MHz","x":58,"y":0.05},{"s":"8.10 MHz","x":62,"y":0},{"s":"8.10 MHz","x":82,"y":0},{"s":"8.10 MHz","x":86,"y":-0.1},{"s":"8.10 MHz","x":89,"y":-0.8},{"s":"8.10 MHz","x":92,"y":-2.2},{"s":"8.10 MHz","x":95,"y":-3.4},{"s":"8.10 MHz","x":99,"y":-3.9},{"s":"8.10 MHz","x":103,"y":-3.6},{"s":"8.10 MHz","x":108,"y":-3.35},{"s":"8.10 MHz","x":113,"y":-3.6},{"s":"8.10 MHz","x":117,"y":-4.0},{"s":"8.10 MHz","x":121,"y":-3.7},{"s":"8.10 MHz","x":125,"y":-2.5},{"s":"8.10 MHz","x":128,"y":-1.2},{"s":"8.10 MHz","x":131,"y":-0.3},{"s":"8.10 MHz","x":134,"y":0},{"s":"8.10 MHz","x":155,"y":0},{"s":"8.10 MHz","x":159,"y":0.2},{"s":"8.10 MHz","x":162,"y":0.15},{"s":"8.10 MHz","x":164,"y":-0.5},{"s":"8.10 MHz","x":167,"y":-2.0},{"s":"8.10 MHz","x":171,"y":-3.2},{"s":"8.10 MHz","x":176,"y":-3.8},{"s":"8.10 MHz","x":182,"y":-4.1},{"s":"8.10 MHz","x":188,"y":-4.15},{"s":"8.10 MHz","x":194,"y":-4.0},{"s":"8.10 MHz","x":200,"y":-3.7},{"s":"8.10 MHz","x":205,"y":-3.3},{"s":"8.10 MHz","x":208,"y":-2.5},{"s":"8.10 MHz","x":211,"y":-0.5},{"s":"8.10 MHz","x":213,"y":0.7},{"s":"8.10 MHz","x":215,"y":1.1},{"s":"8.10 MHz","x":217,"y":0.7},{"s":"8.10 MHz","x":220,"y":0.1},{"s":"8.10 MHz","x":223,"y":0},{"s":"8.10 MHz","x":232,"y":0},
{"s":"8.44 MHz","x":0,"y":0},{"s":"8.44 MHz","x":15,"y":0},{"s":"8.44 MHz","x":19,"y":-0.2},{"s":"8.44 MHz","x":23,"y":-0.9},{"s":"8.44 MHz","x":27,"y":-1.2},{"s":"8.44 MHz","x":31,"y":-1.05},{"s":"8.44 MHz","x":37,"y":-0.75},{"s":"8.44 MHz","x":42,"y":-0.85},{"s":"8.44 MHz","x":47,"y":-0.95},{"s":"8.44 MHz","x":51,"y":-0.8},{"s":"8.44 MHz","x":55,"y":-0.3},{"s":"8.44 MHz","x":59,"y":0},{"s":"8.44 MHz","x":85,"y":0},{"s":"8.44 MHz","x":89,"y":-0.3},{"s":"8.44 MHz","x":93,"y":-0.9},{"s":"8.44 MHz","x":97,"y":-1.3},{"s":"8.44 MHz","x":100,"y":-1.35},{"s":"8.44 MHz","x":104,"y":-1.2},{"s":"8.44 MHz","x":108,"y":-1.15},{"s":"8.44 MHz","x":112,"y":-1.3},{"s":"8.44 MHz","x":117,"y":-1.5},{"s":"8.44 MHz","x":121,"y":-1.3},{"s":"8.44 MHz","x":125,"y":-0.8},{"s":"8.44 MHz","x":129,"y":-0.3},{"s":"8.44 MHz","x":133,"y":0},{"s":"8.44 MHz","x":158,"y":0},{"s":"8.44 MHz","x":162,"y":-0.2},{"s":"8.44 MHz","x":166,"y":-0.8},{"s":"8.44 MHz","x":170,"y":-1.5},{"s":"8.44 MHz","x":175,"y":-2.0},{"s":"8.44 MHz","x":181,"y":-2.4},{"s":"8.44 MHz","x":186,"y":-2.6},{"s":"8.44 MHz","x":190,"y":-2.7},{"s":"8.44 MHz","x":196,"y":-2.65},{"s":"8.44 MHz","x":202,"y":-2.55},{"s":"8.44 MHz","x":206,"y":-2.3},{"s":"8.44 MHz","x":210,"y":-1.7},{"s":"8.44 MHz","x":214,"y":-0.9},{"s":"8.44 MHz","x":218,"y":-0.2},{"s":"8.44 MHz","x":221,"y":0},{"s":"8.44 MHz","x":232,"y":0},
{"s":"8.78 MHz","x":0,"y":0},{"s":"8.78 MHz","x":15,"y":0},{"s":"8.78 MHz","x":20,"y":-0.1},{"s":"8.78 MHz","x":24,"y":-0.4},{"s":"8.78 MHz","x":29,"y":-0.45},{"s":"8.78 MHz","x":36,"y":-0.35},{"s":"8.78 MHz","x":43,"y":-0.42},{"s":"8.78 MHz","x":48,"y":-0.45},{"s":"8.78 MHz","x":54,"y":-0.2},{"s":"8.78 MHz","x":58,"y":0},{"s":"8.78 MHz","x":86,"y":0},{"s":"8.78 MHz","x":90,"y":-0.2},{"s":"8.78 MHz","x":95,"y":-0.5},{"s":"8.78 MHz","x":100,"y":-0.6},{"s":"8.78 MHz","x":108,"y":-0.5},{"s":"8.78 MHz","x":117,"y":-0.6},{"s":"8.78 MHz","x":122,"y":-0.45},{"s":"8.78 MHz","x":127,"y":-0.2},{"s":"8.78 MHz","x":131,"y":0},{"s":"8.78 MHz","x":159,"y":0},{"s":"8.78 MHz","x":164,"y":-0.25},{"s":"8.78 MHz","x":170,"y":-0.6},{"s":"8.78 MHz","x":177,"y":-0.9},{"s":"8.78 MHz","x":183,"y":-1.08},{"s":"8.78 MHz","x":188,"y":-1.15},{"s":"8.78 MHz","x":194,"y":-1.12},{"s":"8.78 MHz","x":200,"y":-1.05},{"s":"8.78 MHz","x":206,"y":-0.9},{"s":"8.78 MHz","x":211,"y":-0.55},{"s":"8.78 MHz","x":216,"y":-0.15},{"s":"8.78 MHz","x":220,"y":0},{"s":"8.78 MHz","x":232,"y":0}
],
"e":[
{"s":"7.40 MHz","x":0,"y":0},{"s":"7.40 MHz","x":15,"y":-1},{"s":"7.40 MHz","x":20,"y":-2},{"s":"7.40 MHz","x":25,"y":-4},{"s":"7.40 MHz","x":30,"y":-5},{"s":"7.40 MHz","x":35,"y":-4},{"s":"7.40 MHz","x":40,"y":-3},{"s":"7.40 MHz","x":45,"y":-5},{"s":"7.40 MHz","x":49,"y":-6},{"s":"7.40 MHz","x":53,"y":-5},{"s":"7.40 MHz","x":57,"y":-2},{"s":"7.40 MHz","x":62,"y":0},{"s":"7.40 MHz","x":85,"y":0},{"s":"7.40 MHz","x":89,"y":-5},{"s":"7.40 MHz","x":93,"y":-20},{"s":"7.40 MHz","x":97,"y":-42},{"s":"7.40 MHz","x":100,"y":-50},{"s":"7.40 MHz","x":103,"y":-42},{"s":"7.40 MHz","x":106,"y":-31},{"s":"7.40 MHz","x":108,"y":-30},{"s":"7.40 MHz","x":111,"y":-37},{"s":"7.40 MHz","x":115,"y":-55},{"s":"7.40 MHz","x":117,"y":-60},{"s":"7.40 MHz","x":120,"y":-48},{"s":"7.40 MHz","x":123,"y":-25},{"s":"7.40 MHz","x":127,"y":-8},{"s":"7.40 MHz","x":131,"y":-1},{"s":"7.40 MHz","x":134,"y":0},{"s":"7.40 MHz","x":160,"y":0},{"s":"7.40 MHz","x":164,"y":-8},{"s":"7.40 MHz","x":168,"y":-35},{"s":"7.40 MHz","x":172,"y":-75},{"s":"7.40 MHz","x":176,"y":-105},{"s":"7.40 MHz","x":181,"y":-124},{"s":"7.40 MHz","x":186,"y":-132},{"s":"7.40 MHz","x":189,"y":-133},{"s":"7.40 MHz","x":193,"y":-130},{"s":"7.40 MHz","x":197,"y":-120},{"s":"7.40 MHz","x":201,"y":-100},{"s":"7.40 MHz","x":204,"y":-70},{"s":"7.40 MHz","x":207,"y":-35},{"s":"7.40 MHz","x":210,"y":-12},{"s":"7.40 MHz","x":214,"y":-3},{"s":"7.40 MHz","x":218,"y":0},{"s":"7.40 MHz","x":232,"y":0},
{"s":"7.75 MHz","x":0,"y":0},{"s":"7.75 MHz","x":15,"y":-1},{"s":"7.75 MHz","x":20,"y":-5},{"s":"7.75 MHz","x":24,"y":-16},{"s":"7.75 MHz","x":28,"y":-22},{"s":"7.75 MHz","x":32,"y":-18},{"s":"7.75 MHz","x":36,"y":-10},{"s":"7.75 MHz","x":40,"y":-8},{"s":"7.75 MHz","x":44,"y":-18},{"s":"7.75 MHz","x":48,"y":-29},{"s":"7.75 MHz","x":51,"y":-22},{"s":"7.75 MHz","x":55,"y":-8},{"s":"7.75 MHz","x":60,"y":0},{"s":"7.75 MHz","x":84,"y":0},{"s":"7.75 MHz","x":88,"y":-15},{"s":"7.75 MHz","x":92,"y":-50},{"s":"7.75 MHz","x":96,"y":-80},{"s":"7.75 MHz","x":100,"y":-90},{"s":"7.75 MHz","x":104,"y":-85},{"s":"7.75 MHz","x":108,"y":-80},{"s":"7.75 MHz","x":112,"y":-85},{"s":"7.75 MHz","x":116,"y":-91},{"s":"7.75 MHz","x":118,"y":-92},{"s":"7.75 MHz","x":121,"y":-82},{"s":"7.75 MHz","x":125,"y":-50},{"s":"7.75 MHz","x":129,"y":-15},{"s":"7.75 MHz","x":133,"y":0},{"s":"7.75 MHz","x":157,"y":0},{"s":"7.75 MHz","x":161,"y":-10},{"s":"7.75 MHz","x":165,"y":-45},{"s":"7.75 MHz","x":169,"y":-80},{"s":"7.75 MHz","x":174,"y":-100},{"s":"7.75 MHz","x":180,"y":-110},{"s":"7.75 MHz","x":186,"y":-115},{"s":"7.75 MHz","x":192,"y":-117},{"s":"7.75 MHz","x":197,"y":-116},{"s":"7.75 MHz","x":201,"y":-112},{"s":"7.75 MHz","x":205,"y":-95},{"s":"7.75 MHz","x":208,"y":-60},{"s":"7.75 MHz","x":211,"y":-25},{"s":"7.75 MHz","x":215,"y":-5},{"s":"7.75 MHz","x":218,"y":0},{"s":"7.75 MHz","x":232,"y":0},
{"s":"8.10 MHz","x":0,"y":2},{"s":"8.10 MHz","x":3,"y":1},{"s":"8.10 MHz","x":10,"y":0},{"s":"8.10 MHz","x":18,"y":-3},{"s":"8.10 MHz","x":22,"y":-12},{"s":"8.10 MHz","x":26,"y":-22},{"s":"8.10 MHz","x":29,"y":-24},{"s":"8.10 MHz","x":32,"y":-20},{"s":"8.10 MHz","x":36,"y":-12},{"s":"8.10 MHz","x":39,"y":-10},{"s":"8.10 MHz","x":43,"y":-15},{"s":"8.10 MHz","x":47,"y":-18},{"s":"8.10 MHz","x":51,"y":-15},{"s":"8.10 MHz","x":55,"y":-7},{"s":"8.10 MHz","x":59,"y":-1},{"s":"8.10 MHz","x":63,"y":0},{"s":"8.10 MHz","x":80,"y":1},{"s":"8.10 MHz","x":83,"y":2},{"s":"8.10 MHz","x":86,"y":-2},{"s":"8.10 MHz","x":90,"y":-12},{"s":"8.10 MHz","x":95,"y":-20},{"s":"8.10 MHz","x":100,"y":-22},{"s":"8.10 MHz","x":104,"y":-20},{"s":"8.10 MHz","x":108,"y":-19},{"s":"8.10 MHz","x":112,"y":-21},{"s":"8.10 MHz","x":117,"y":-23},{"s":"8.10 MHz","x":121,"y":-20},{"s":"8.10 MHz","x":125,"y":-12},{"s":"8.10 MHz","x":129,"y":-4},{"s":"8.10 MHz","x":133,"y":0},{"s":"8.10 MHz","x":158,"y":0},{"s":"8.10 MHz","x":162,"y":-5},{"s":"8.10 MHz","x":166,"y":-18},{"s":"8.10 MHz","x":170,"y":-29},{"s":"8.10 MHz","x":176,"y":-34},{"s":"8.10 MHz","x":183,"y":-39},{"s":"8.10 MHz","x":189,"y":-43},{"s":"8.10 MHz","x":195,"y":-44},{"s":"8.10 MHz","x":201,"y":-44},{"s":"8.10 MHz","x":205,"y":-42},{"s":"8.10 MHz","x":208,"y":-35},{"s":"8.10 MHz","x":211,"y":-20},{"s":"8.10 MHz","x":214,"y":-6},{"s":"8.10 MHz","x":217,"y":-1},{"s":"8.10 MHz","x":220,"y":0},{"s":"8.10 MHz","x":232,"y":0},
{"s":"8.44 MHz","x":0,"y":0},{"s":"8.44 MHz","x":15,"y":-1},{"s":"8.44 MHz","x":22,"y":-4},{"s":"8.44 MHz","x":30,"y":-5},{"s":"8.44 MHz","x":38,"y":-3},{"s":"8.44 MHz","x":46,"y":-5},{"s":"8.44 MHz","x":54,"y":-3},{"s":"8.44 MHz","x":60,"y":0},{"s":"8.44 MHz","x":85,"y":0},{"s":"8.44 MHz","x":92,"y":-4},{"s":"8.44 MHz","x":100,"y":-7},{"s":"8.44 MHz","x":108,"y":-7},{"s":"8.44 MHz","x":116,"y":-8},{"s":"8.44 MHz","x":124,"y":-4},{"s":"8.44 MHz","x":130,"y":0},{"s":"8.44 MHz","x":158,"y":0},{"s":"8.44 MHz","x":165,"y":-4},{"s":"8.44 MHz","x":175,"y":-10},{"s":"8.44 MHz","x":185,"y":-14},{"s":"8.44 MHz","x":195,"y":-15},{"s":"8.44 MHz","x":203,"y":-14},{"s":"8.44 MHz","x":210,"y":-9},{"s":"8.44 MHz","x":216,"y":-3},{"s":"8.44 MHz","x":220,"y":0},{"s":"8.44 MHz","x":232,"y":0},
{"s":"8.78 MHz","x":0,"y":0},{"s":"8.78 MHz","x":15,"y":-1},{"s":"8.78 MHz","x":25,"y":-2},{"s":"8.78 MHz","x":38,"y":-2},{"s":"8.78 MHz","x":48,"y":-3},{"s":"8.78 MHz","x":58,"y":0},{"s":"8.78 MHz","x":85,"y":0},{"s":"8.78 MHz","x":95,"y":-4},{"s":"8.78 MHz","x":108,"y":-5},{"s":"8.78 MHz","x":118,"y":-5},{"s":"8.78 MHz","x":128,"y":-2},{"s":"8.78 MHz","x":133,"y":0},{"s":"8.78 MHz","x":158,"y":0},{"s":"8.78 MHz","x":166,"y":-3},{"s":"8.78 MHz","x":178,"y":-7},{"s":"8.78 MHz","x":190,"y":-8},{"s":"8.78 MHz","x":200,"y":-8},{"s":"8.78 MHz","x":210,"y":-5},{"s":"8.78 MHz","x":218,"y":-1},{"s":"8.78 MHz","x":222,"y":0},{"s":"8.78 MHz","x":232,"y":0}
]
},
"hconcat":[
{"vconcat":[
 {"width":349,"height":26,"data":{"values":[{"k":1}]},"mark":{"type":"point","opacity":0},"encoding":{},"view":{"stroke":null}},
 {"width":349,"height":412,
  "layer":[
   {"data":{"name":"a_blue"},"mark":{"type":"line"},
    "encoding":{
     "x":{"field":"x","type":"quantitative","scale":{"domain":[0,232],"nice":false},"axis":{"orient":"bottom","values":[0,50,100,150,200],"title":["Position (mm)","(a)"],"titleLineHeight":36}},
     "y":{"field":"y","type":"quantitative","scale":{"domain":[-7,7],"nice":false,"zero":false},"axis":{"orient":"left","values":[-6,-4,-2,0,2,4,6],"labelExpr":"''+datum.value","title":"Impedance mode |Z| (kΩ)","titlePadding":2}},
     "color":{"field":"s","type":"nominal","scale":{"domain":["1.0 MHz","3.0 MHz","5.0 MHz","7.0 MHz","7.5 MHz","8.0 MHz"],"range":["#b9d5ee","#94c2e6","#6aaedc","#3f8fcf","#2473bd","#0d55a0"]},"legend":{"legendX":15,"legendY":11,"strokeColor":"black","padding":4,"fillColor":"white","symbolType":"M-1.75,0H1.75","symbolSize":400,"symbolOffset":9,"labelOffset":13,"columnPadding":12,"rowPadding":5}},
     "strokeDash":{"field":"s","type":"nominal","scale":{"domain":["1.0 MHz","3.0 MHz","5.0 MHz","7.0 MHz","7.5 MHz","8.0 MHz"],"range":[[1,0],[2,3],[6,4],[12,4,2,4,2,4],[7,4,2,4,2,4],[8,4,3,4]]}}
    }},
   {"data":{"name":"a_red"},"mark":{"type":"line"},
    "encoding":{
     "x":{"field":"x","type":"quantitative","scale":{"domain":[0,232],"nice":false},"axis":null},
     "y":{"field":"y","type":"quantitative","scale":{"domain":[-7,7],"nice":false,"zero":false},"axis":null},
     "color":{"field":"s","type":"nominal","scale":{"domain":["8.1 MHz","8.3 MHz","8.5 MHz","9.0 MHz","10.0 MHz","12.0 MHz"],"range":["#a8141c","#c8171e","#ee3b33","#f8694e","#fb9376","#fcbca4"]},"legend":{"legendX":11,"legendY":329,"strokeColor":"black","padding":4,"fillColor":"white","symbolType":"M-1.75,0H1.75","symbolSize":400,"symbolOffset":9,"labelOffset":13,"columnPadding":12,"rowPadding":5}},
     "strokeDash":{"field":"s","type":"nominal","scale":{"domain":["8.1 MHz","8.3 MHz","8.5 MHz","9.0 MHz","10.0 MHz","12.0 MHz"],"range":[[10,6],[3,5],[1,0],[2,2],[7,3],[10,4,2,4,2,4]]}}
    }},
   {"data":{"values":[{"x":16,"y":2.38,"y2":3.5}]},"mark":{"type":"rule","color":"#2a78e0","strokeWidth":2.5},
    "encoding":{"x":{"field":"x","type":"quantitative","axis":null},"y":{"field":"y","type":"quantitative","axis":null},"y2":{"field":"y2"}}},
   {"data":{"values":[{"x":16,"y":3.65}]},"mark":{"type":"point","shape":"M-0.55,1L0,-1L0.55,1Z","filled":true,"opacity":1,"color":"#2a78e0","size":230},
    "encoding":{"x":{"field":"x","type":"quantitative","axis":null},"y":{"field":"y","type":"quantitative","axis":null}}},
   {"data":{"values":[{"x":15.3,"y":-2.32,"y2":-3.4}]},"mark":{"type":"rule","color":"#f04545","strokeWidth":2.5},
    "encoding":{"x":{"field":"x","type":"quantitative","axis":null},"y":{"field":"y","type":"quantitative","axis":null},"y2":{"field":"y2"}}},
   {"data":{"values":[{"x":15.3,"y":-3.55}]},"mark":{"type":"point","shape":"M-0.55,-1L0,1L0.55,-1Z","filled":true,"opacity":1,"color":"#f04545","size":230},
    "encoding":{"x":{"field":"x","type":"quantitative","axis":null},"y":{"field":"y","type":"quantitative","axis":null}}},
   {"data":{"values":[{"x":27,"y":3.06,"t":"f < f₀"},{"x":25,"y":-3.17,"t":"f > f₀"}]},"mark":{"type":"text","align":"left","baseline":"middle","font":"Liberation Serif, Times New Roman, DejaVu Serif, serif","fontSize":21,"fontStyle":"italic","color":"black"},
    "encoding":{"x":{"field":"x","type":"quantitative","axis":null},"y":{"field":"y","type":"quantitative","axis":null},"text":{"field":"t"}}},
   {"data":{"name":"a_blue"},"mark":{"type":"point","opacity":0},
    "encoding":{
     "x":{"field":"x","type":"quantitative","scale":{"domain":[0,232],"nice":false},"axis":{"orient":"top","values":[0,50,100,150,200],"labels":false,"title":null}},
     "y":{"field":"y","type":"quantitative","scale":{"domain":[-7,7],"nice":false,"zero":false},"axis":{"orient":"right","values":[-6,-4,-2,0,2,4,6],"labels":false,"title":null}}}}
  ],
  "resolve":{"scale":{"color":"independent","strokeDash":"independent"},"axis":{"x":"independent","y":"independent"}}
 }
],"spacing":0,"bounds":"flush"},
{"hconcat":[
{"vconcat":[
  {"width":330,"height":165,"data":{"name":"b"},
   "layer":[
    {"mark":{"type":"line"},
     "encoding":{
      "x":{"field":"x","type":"quantitative","scale":{"domain":[0,232],"nice":false},"axis":{"orient":"bottom","values":[0,50,100,150,200],"title":["Position (mm)","(b)"]}},
      "y":{"field":"y","type":"quantitative","scale":{"domain":[-0.1,0.6],"nice":false,"zero":false},"axis":{"orient":"left","values":[0,0.2,0.4,0.6],"format":".1f","title":"Impedance mode (kΩ)"}},
      "color":{"field":"s","type":"nominal","scale":{"domain":["1.0 MHz","2.0 MHz","3.0 MHz","4.0 MHz","5.0 MHz","6.0 MHz"],"range":["#6e6e6e","#f23b3b","#1e6fe0","#3aa65c","#b679e6","#d7a000"]},"legend":{"legendX":20,"legendY":8,"rowPadding":2}},
      "strokeDash":{"field":"s","type":"nominal","scale":{"domain":["1.0 MHz","2.0 MHz","3.0 MHz","4.0 MHz","5.0 MHz","6.0 MHz"],"range":[[1,0],[2,2],[5,3],[10,3,4,3],[10,3,2,3,2,3],[8,3,3,3]]}}
     }},
    {"mark":{"type":"point","opacity":0},
     "encoding":{
      "x":{"field":"x","type":"quantitative","scale":{"domain":[0,232],"nice":false},"axis":{"orient":"top","values":[0,50,100,150,200],"labels":false,"title":null}},
      "y":{"field":"y","type":"quantitative","scale":{"domain":[-0.1,0.6],"nice":false,"zero":false},"axis":{"orient":"right","values":[0,0.2,0.4,0.6],"labels":false,"title":null}}}}
   ],
   "resolve":{"axis":{"x":"independent","y":"independent"}}},
  {"width":330,"height":166,"data":{"name":"d"},
   "layer":[
    {"mark":{"type":"line"},
     "encoding":{
      "x":{"field":"x","type":"quantitative","scale":{"domain":[0,232],"nice":false},"axis":{"orient":"bottom","values":[0,50,100,150,200],"title":["Position (mm)","(d)"]}},
      "y":{"field":"y","type":"quantitative","scale":{"domain":[-5,7],"nice":false,"zero":false},"axis":{"orient":"left","values":[-4,-2,0,2,4,6],"labelExpr":"''+datum.value","title":"Impedance mode (kΩ)"}},
      "color":{"field":"s","type":"nominal","scale":{"domain":["7.40 MHz","7.75 MHz","8.10 MHz","8.44 MHz","8.78 MHz"],"range":["#85504f","#9c9b20","#f77020","#72a6dc","#6cb026"]},"legend":{"legendX":7,"legendY":13,"columnPadding":12}},
      "strokeDash":{"field":"s","type":"nominal","scale":{"domain":["7.40 MHz","7.75 MHz","8.10 MHz","8.44 MHz","8.78 MHz"],"range":[[1,0],[2,3],[6,3],[10,3,3,3],[6,3,3,3]]}}
     }},
    {"mark":{"type":"point","opacity":0},
     "encoding":{
      "x":{"field":"x","type":"quantitative","scale":{"domain":[0,232],"nice":false},"axis":{"orient":"top","values":[0,50,100,150,200],"labels":false,"title":null}},
      "y":{"field":"y","type":"quantitative","scale":{"domain":[-5,7],"nice":false,"zero":false},"axis":{"orient":"right","values":[-4,-2,0,2,4,6],"labels":false,"title":null}}}}
   ],
   "resolve":{"axis":{"x":"independent","y":"independent"}}}
 ],"spacing":108,"bounds":"flush","resolve":{"scale":{"color":"independent","strokeDash":"independent"},"legend":{"color":"independent","strokeDash":"independent"}}},
{"vconcat":[
  {"width":329,"height":165,"data":{"name":"c"},
   "layer":[
    {"mark":{"type":"line"},
     "encoding":{
      "x":{"field":"x","type":"quantitative","scale":{"domain":[0,232],"nice":false},"axis":{"orient":"bottom","values":[0,50,100,150,200],"title":["Position (mm)","(c)"]}},
      "y":{"field":"y","type":"quantitative","scale":{"domain":[-1.5,0.25],"nice":false,"zero":false},"axis":{"orient":"left","values":[-1.5,-1,-0.5,0],"labelExpr":"replace(format(datum.value,'.1f'),'−','-')","title":"Impedance mode (kΩ)"}},
      "color":{"field":"s","type":"nominal","scale":{"domain":["9.0 MHz","10.0 MHz","11.0 MHz","12.0 MHz"],"range":["#6ca2dc","#80c41c","#6a6a6a","#ee3a3a"]},"legend":{"legendX":12,"legendY":118,"rowPadding":0,"columnPadding":2}},
      "strokeDash":{"field":"s","type":"nominal","scale":{"domain":["9.0 MHz","10.0 MHz","11.0 MHz","12.0 MHz"],"range":[[1,0],[2,2],[5,3],[10,3,3,3]]}}
     }},
    {"mark":{"type":"point","opacity":0},
     "encoding":{
      "x":{"field":"x","type":"quantitative","scale":{"domain":[0,232],"nice":false},"axis":{"orient":"top","values":[0,50,100,150,200],"labels":false,"title":null}},
      "y":{"field":"y","type":"quantitative","scale":{"domain":[-1.5,0.25],"nice":false,"zero":false},"axis":{"orient":"right","values":[-1.5,-1,-0.5,0],"labels":false,"title":null}}}}
   ],
   "resolve":{"axis":{"x":"independent","y":"independent"}}},
  {"width":329,"height":166,"data":{"name":"e"},
   "layer":[
    {"mark":{"type":"line"},
     "encoding":{
      "x":{"field":"x","type":"quantitative","scale":{"domain":[0,232],"nice":false},"axis":{"orient":"bottom","values":[0,50,100,150,200],"title":["Position (mm)","(e)"]}},
      "y":{"field":"y","type":"quantitative","scale":{"domain":[-150,25],"nice":false,"zero":false},"axis":{"orient":"left","values":[-150,-100,-50,0],"labelExpr":"''+datum.value","title":"Impedance phase θ (deg)"}},
      "color":{"field":"s","type":"nominal","scale":{"domain":["7.40 MHz","7.75 MHz","8.10 MHz"," ","8.44 MHz","8.78 MHz"],"range":["#85504f","#9c9b20","#f77020","transparent","#72a6dc","#6cb026"]},"legend":{"legendX":15,"legendY":100,"columnPadding":12}},
      "strokeDash":{"field":"s","type":"nominal","scale":{"domain":["7.40 MHz","7.75 MHz","8.10 MHz"," ","8.44 MHz","8.78 MHz"],"range":[[1,0],[2,3],[6,3],[1,0],[10,3,3,3],[6,3,3,3]]}}
     }},
    {"mark":{"type":"point","opacity":0},
     "encoding":{
      "x":{"field":"x","type":"quantitative","scale":{"domain":[0,232],"nice":false},"axis":{"orient":"top","values":[0,50,100,150,200],"labels":false,"title":null}},
      "y":{"field":"y","type":"quantitative","scale":{"domain":[-150,25],"nice":false,"zero":false},"axis":{"orient":"right","values":[-150,-100,-50,0],"labels":false,"title":null}}}}
   ],
   "resolve":{"axis":{"x":"independent","y":"independent"}}}
 ],"spacing":108,"bounds":"flush","resolve":{"scale":{"color":"independent","strokeDash":"independent"},"legend":{"color":"independent","strokeDash":"independent"}}}
],"spacing":30,"resolve":{"scale":{"color":"independent","strokeDash":"independent"},"legend":{"color":"independent","strokeDash":"independent"}}}
]
}
